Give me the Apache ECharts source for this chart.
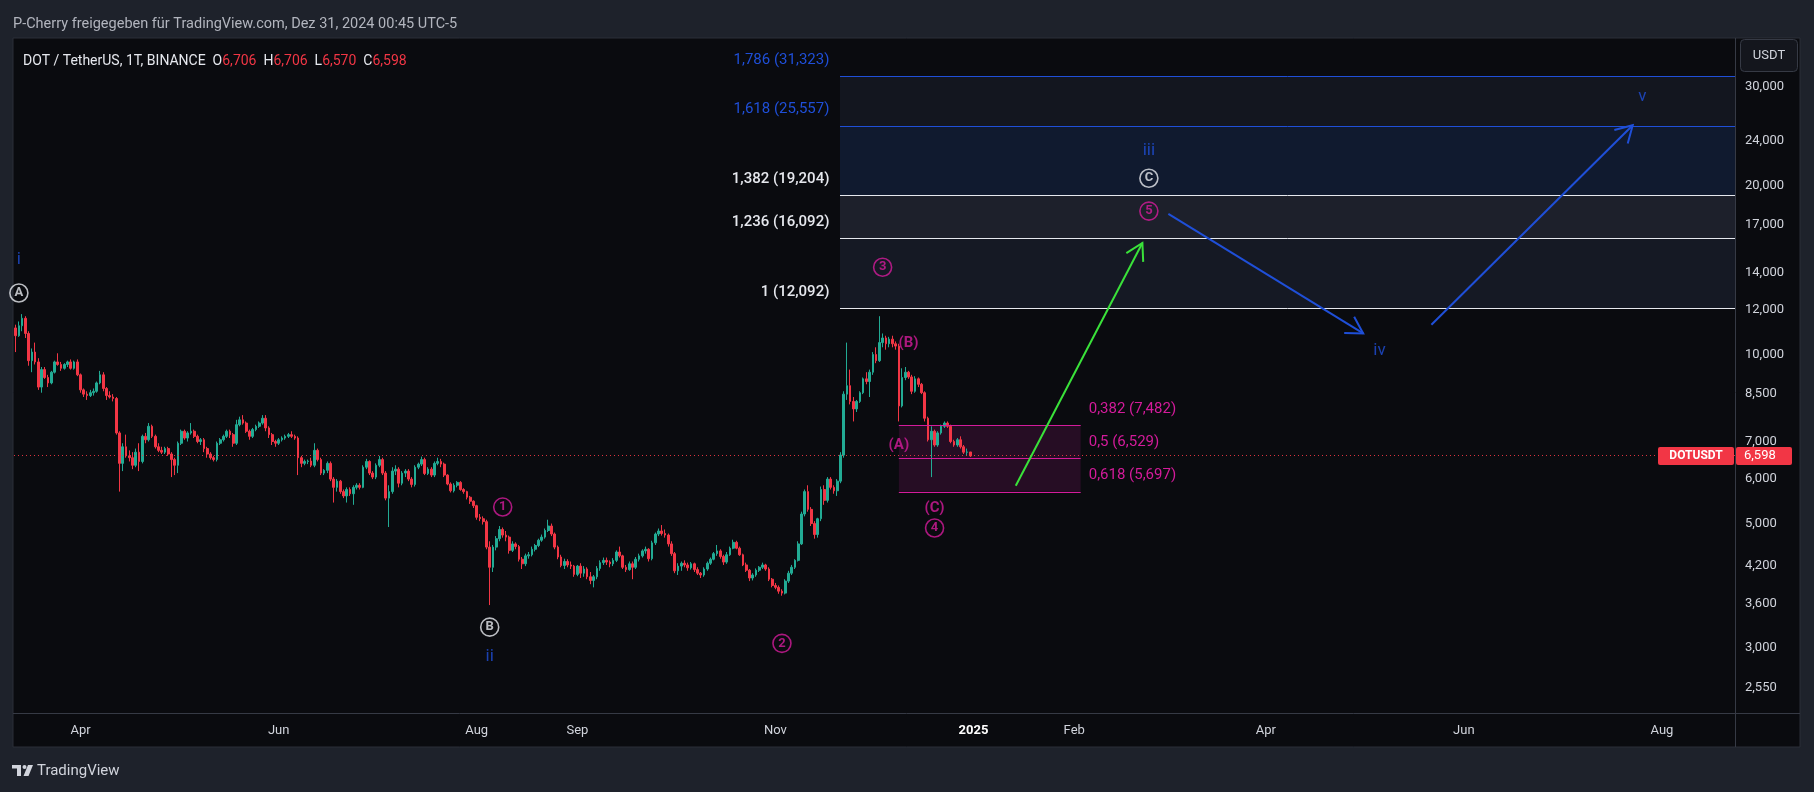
<!DOCTYPE html>
<html>
<head>
<meta charset="utf-8">
<script src="https://cdn.jsdelivr.net/npm/echarts@6/dist/echarts.min.js"></script>
<style>
html,body{margin:0;padding:0;background:#1e222b;}
#chart{width:1814px;height:792px;}
</style>
</head>
<body>
<div id="chart"></div>
<script>
// ---------------- DATA ----------------
// daily candles, DOT/USDT, [open, high, low, close]
const firstCandleDate = '2024-03-12';
const lastAxisDate = '2025-08-23';

const ohlcMar = [
[11.15,11.30,10.10,10.80],[10.80,11.45,10.75,11.25],[11.25,11.80,11.00,11.60],[11.60,11.70,10.70,10.90],
[10.90,11.00,9.55,9.75],[9.75,10.25,9.30,10.10],[10.10,10.50,9.60,9.70],[9.70,9.85,8.65,8.75],
[8.75,9.50,8.55,9.40],[9.40,9.50,9.05,9.10],[9.10,9.20,8.75,8.90],[8.90,9.35,8.85,9.30],
[9.30,9.75,9.25,9.70],[9.70,10.05,9.55,9.60],[9.60,9.70,9.35,9.45],[9.45,9.65,9.40,9.60],
[9.60,9.75,9.50,9.70],[9.70,9.80,9.40,9.45],[9.45,9.75,9.40,9.70],[9.70,9.80,9.15,9.20]
];
const ohlcApr = [
[9.20,9.25,8.55,8.65],[8.65,8.70,8.40,8.50],[8.50,8.60,8.30,8.45],[8.45,8.65,8.40,8.55],
[8.55,8.70,8.45,8.60],[8.60,8.95,8.55,8.90],[8.90,9.35,8.85,9.20],[9.20,9.30,8.60,8.70],
[8.70,8.75,8.30,8.45],[8.45,8.60,8.35,8.40],[8.40,8.50,8.25,8.35],[8.35,8.40,7.20,7.25],
[7.25,7.30,5.70,6.40],[6.40,6.95,6.20,6.85],[6.85,7.20,6.55,6.60],[6.60,6.75,6.45,6.55],
[6.55,6.70,6.25,6.35],[6.35,6.80,6.30,6.70],[6.70,6.95,6.20,6.45],[6.45,7.20,6.40,7.15],
[7.15,7.25,6.95,7.05],[7.05,7.55,7.00,7.45],[7.45,7.50,7.10,7.15],[7.15,7.20,6.80,6.85],
[6.85,6.95,6.70,6.75],[6.75,6.85,6.65,6.70],[6.70,6.85,6.65,6.80],[6.80,6.85,6.60,6.65],
[6.65,6.70,6.05,6.50],[6.50,6.55,6.10,6.35]
];
const ohlcMay = [
[6.35,7.00,6.15,6.95],[6.95,7.35,6.90,7.30],[7.30,7.35,7.05,7.10],[7.10,7.30,7.00,7.25],
[7.25,7.55,7.20,7.30],[7.30,7.35,7.10,7.15],[7.15,7.20,6.95,7.00],[7.00,7.10,6.90,7.05],
[7.05,7.10,6.70,6.80],[6.80,6.85,6.55,6.65],[6.65,6.70,6.50,6.55],[6.55,6.60,6.45,6.50],
[6.50,7.00,6.45,6.95],[6.95,7.10,6.90,7.05],[7.05,7.20,7.00,7.15],[7.15,7.35,7.10,7.30],
[7.30,7.35,7.10,7.20],[7.20,7.25,6.85,6.95],[6.95,7.65,6.90,7.50],[7.50,7.75,7.45,7.65],
[7.65,7.80,7.50,7.55],[7.55,7.60,7.25,7.30],[7.30,7.35,7.05,7.15],[7.15,7.40,7.10,7.35],
[7.35,7.50,7.30,7.45],[7.45,7.60,7.40,7.55],[7.55,7.80,7.50,7.70],[7.70,7.80,7.30,7.40],
[7.40,7.45,7.10,7.20],[7.20,7.25,6.90,7.00],[7.00,7.05,6.85,6.95]
];
const ohlcJun = [
[6.95,7.10,6.90,7.05],[7.05,7.15,7.00,7.10],[7.10,7.20,7.05,7.15],[7.15,7.25,7.10,7.20],
[7.20,7.30,7.10,7.15],[7.15,7.20,7.05,7.10],[7.10,7.15,6.10,6.55],[6.55,6.60,6.30,6.40],
[6.40,6.50,6.35,6.45],[6.45,6.50,6.38,6.46],[6.46,6.55,6.30,6.35],[6.35,6.95,6.30,6.75],
[6.75,6.80,6.45,6.50],[6.50,6.55,6.10,6.15],[6.15,6.25,6.10,6.22],[6.22,6.45,6.15,6.40],
[6.40,6.45,5.95,6.00],[6.00,6.05,5.45,5.80],[5.80,6.00,5.70,5.95],[5.95,5.98,5.65,5.70],
[5.70,5.75,5.55,5.60],[5.60,5.80,5.45,5.75],[5.75,5.80,5.60,5.65],[5.65,5.85,5.40,5.80],
[5.80,5.90,5.75,5.85],[5.85,5.90,5.75,5.80],[5.80,6.35,5.78,6.30],[6.30,6.52,6.25,6.45],
[6.45,6.48,6.10,6.15],[6.15,6.20,6.00,6.05]
];
const ohlcJul = [
[6.05,6.40,6.00,6.35],[6.35,6.60,6.30,6.50],[6.50,6.55,6.10,6.15],[6.15,6.20,5.50,5.55],
[5.55,5.85,4.93,5.70],[5.70,6.30,5.65,6.20],[6.20,6.35,6.10,6.25],[6.25,6.30,5.80,5.90],
[5.90,6.20,5.85,6.15],[6.15,6.25,6.05,6.20],[6.20,6.25,5.95,6.00],[6.00,6.05,5.80,5.87],
[5.87,6.35,5.82,6.30],[6.30,6.42,6.25,6.38],[6.38,6.58,6.33,6.50],[6.50,6.55,6.10,6.14],
[6.14,6.30,6.10,6.25],[6.25,6.30,6.05,6.10],[6.10,6.45,6.05,6.40],[6.40,6.55,6.35,6.45],
[6.45,6.52,6.30,6.38],[6.38,6.42,6.05,6.10],[6.10,6.12,5.85,5.88],[5.88,5.92,5.68,5.72],
[5.72,5.90,5.68,5.85],[5.85,5.95,5.80,5.92],[5.92,5.95,5.72,5.75],[5.75,5.78,5.65,5.70],
[5.70,5.72,5.52,5.57],[5.57,5.60,5.42,5.48],[5.48,5.50,5.33,5.38]
];
const ohlcAug = [
[5.38,5.40,5.08,5.13],[5.13,5.20,5.05,5.10],[5.10,5.15,4.98,5.04],[5.04,5.08,4.50,4.54],
[4.54,4.65,3.58,4.18],[4.18,4.58,4.10,4.54],[4.54,4.75,4.48,4.70],[4.70,4.95,4.65,4.88],
[4.88,4.92,4.72,4.77],[4.77,4.85,4.65,4.73],[4.73,4.76,4.42,4.48],[4.48,4.65,4.45,4.60],
[4.60,4.63,4.50,4.55],[4.55,4.58,4.28,4.32],[4.32,4.36,4.15,4.24],[4.24,4.42,4.20,4.38],
[4.38,4.45,4.33,4.40],[4.40,4.55,4.37,4.50],[4.50,4.60,4.46,4.57],[4.57,4.70,4.54,4.67],
[4.67,4.78,4.64,4.73],[4.73,4.90,4.70,4.86],[4.86,5.08,4.83,4.95],[4.95,5.00,4.75,4.79],
[4.79,4.82,4.50,4.54],[4.54,4.57,4.32,4.36],[4.36,4.40,4.18,4.21],[4.21,4.33,4.15,4.28],
[4.28,4.32,4.18,4.22],[4.22,4.28,4.15,4.20],[4.20,4.22,4.02,4.06]
];
const ohlcSep = [
[4.06,4.22,4.03,4.20],[4.20,4.25,4.00,4.08],[4.08,4.20,4.02,4.15],[4.15,4.18,3.98,4.02],
[4.02,4.10,3.90,3.96],[3.96,4.05,3.85,4.02],[4.02,4.20,3.98,4.16],[4.16,4.30,4.12,4.26],
[4.26,4.35,4.22,4.30],[4.30,4.35,4.22,4.27],[4.27,4.30,4.18,4.24],[4.24,4.34,4.20,4.30],
[4.30,4.48,4.27,4.45],[4.45,4.55,4.35,4.38],[4.38,4.40,4.15,4.18],[4.18,4.22,4.10,4.14],
[4.14,4.28,4.12,4.24],[4.24,4.28,3.98,4.18],[4.18,4.36,4.15,4.32],[4.32,4.42,4.28,4.38],
[4.38,4.50,4.35,4.47],[4.47,4.55,4.42,4.50],[4.50,4.52,4.28,4.33],[4.33,4.66,4.30,4.62],
[4.62,4.82,4.58,4.79],[4.79,4.90,4.75,4.85],[4.85,4.97,4.76,4.80],[4.80,4.88,4.72,4.77],
[4.77,4.80,4.55,4.60],[4.60,4.65,4.38,4.42]
];
const ohlcOct = [
[4.42,4.45,4.08,4.12],[4.12,4.25,4.05,4.20],[4.20,4.28,4.12,4.25],[4.25,4.30,4.18,4.22],
[4.22,4.26,4.12,4.17],[4.17,4.27,4.14,4.24],[4.24,4.26,4.10,4.14],[4.14,4.18,4.05,4.08],
[4.08,4.10,4.00,4.05],[4.05,4.18,4.02,4.15],[4.15,4.28,4.12,4.25],[4.25,4.35,4.22,4.32],
[4.32,4.45,4.30,4.42],[4.42,4.58,4.38,4.47],[4.47,4.50,4.33,4.37],[4.37,4.40,4.22,4.27],
[4.27,4.45,4.24,4.40],[4.40,4.55,4.38,4.52],[4.52,4.68,4.50,4.63],[4.63,4.66,4.50,4.52],
[4.52,4.55,4.38,4.40],[4.40,4.42,4.20,4.22],[4.22,4.26,4.10,4.13],[4.13,4.15,3.95,4.00],
[4.00,4.08,3.96,4.05],[4.05,4.16,4.02,4.13],[4.13,4.20,4.10,4.18],[4.18,4.26,4.15,4.22],
[4.22,4.24,4.12,4.15],[4.15,4.18,3.95,3.98],[3.98,4.00,3.85,3.88]
];
const ohlcNov = [
[3.88,3.92,3.82,3.85],[3.85,3.88,3.75,3.79],[3.79,3.82,3.72,3.76],[3.76,3.98,3.74,3.95],
[3.95,4.12,3.92,4.08],[4.08,4.22,4.05,4.18],[4.18,4.32,4.15,4.30],[4.30,4.65,4.28,4.60],
[4.60,5.25,4.58,5.20],[5.20,5.75,5.15,5.70],[5.70,5.85,5.25,5.30],[5.30,5.35,4.95,5.00],
[5.00,5.05,4.70,4.78],[4.78,5.12,4.72,5.10],[5.10,5.82,5.05,5.75],[5.75,5.85,5.40,5.50],
[5.50,6.05,5.45,6.00],[6.00,6.05,5.75,5.80],[5.80,5.85,5.65,5.72],[5.72,6.00,5.60,5.95],
[5.95,6.70,5.90,6.62],[6.62,8.60,6.55,8.50],[8.50,10.50,8.30,8.80],[8.80,9.40,8.15,8.25],
[8.25,8.40,7.60,8.00],[8.00,8.30,7.90,8.25],[8.25,8.60,8.20,8.55],[8.55,9.10,8.50,9.05],
[9.05,9.30,8.85,8.95],[8.95,9.40,8.40,9.30]
];
const ohlcDec = [
[9.30,10.10,9.20,10.00],[10.00,10.30,9.65,9.75],[9.75,11.70,9.70,10.50],[10.50,10.90,10.30,10.70],
[10.70,10.80,10.20,10.45],[10.45,10.75,10.30,10.65],[10.65,10.80,10.30,10.45],[10.45,10.55,10.20,10.35],
[10.35,10.45,7.60,8.10],[8.10,9.45,8.05,9.10],[9.10,9.50,9.00,9.30],[9.30,9.35,9.05,9.12],
[9.12,9.20,8.50,8.60],[8.60,9.15,8.55,9.05],[9.05,9.10,8.75,8.85],[8.85,8.90,8.50,8.55],
[8.55,8.60,7.60,7.70],[7.70,7.75,7.00,7.05],[7.05,7.45,6.05,7.30],[7.30,7.35,6.85,6.90],
[6.90,7.30,6.85,7.25],[7.25,7.50,7.20,7.45],[7.45,7.60,7.40,7.55],[7.55,7.60,7.40,7.45],
[7.45,7.50,6.95,7.00],[7.00,7.05,6.85,6.90],[6.90,7.10,6.85,7.05],[7.05,7.15,6.80,6.85],
[6.85,6.90,6.65,6.70],[6.70,6.80,6.60,6.706],[6.706,6.706,6.570,6.598]
];

// price axis (log scale) tick labels
const priceTicks = [2.55, 3, 3.6, 4.2, 5, 6, 7, 8.5, 10, 12, 14, 17, 20, 24, 30];
const priceAxisMin = 2.30;
const priceAxisMax = 36.6;

// time axis tick labels
const timeTickDates = ['2024-04-01','2024-06-01','2024-08-01','2024-09-01','2024-11-01','2025-01-01','2025-02-01','2025-04-01','2025-06-01','2025-08-01'];
const timeTickLabels = ['Apr','Jun','Aug','Sep','Nov','2025','Feb','Apr','Jun','Aug'];

// Fibonacci extension levels
const fibStart = '2024-11-21';
const fibRatios = ['1', '1,236', '1,382', '1,618', '1,786'];
const fibPrices = [12.092, 16.092, 19.204, 25.557, 31.323];

// Fibonacci retracement zone
const retraceStart = '2024-12-09';
const retraceEnd = '2025-02-03';
const retraceRatios = ['0,382', '0,5', '0,618'];
const retracePrices = [7.482, 6.529, 5.697];

// wave labels
const plainLabelText  = ['i', 'ii', 'iii', 'iv', 'v', '(A)', '(B)', '(C)'];
const plainLabelDate  = ['2024-03-13','2024-08-05','2025-02-24','2025-05-06','2025-07-26','2024-12-09','2024-12-12','2024-12-20'];
const plainLabelPrice = [14.73, 2.90, 23.1, 10.15, 28.8, 6.90, 10.49, 5.33];
const plainLabelKind  = ['blue','blue','blue','blue','blue','magenta','magenta','magenta'];

const circledText  = ['A', 'B', 'C', '1', '2', '3', '4', '5'];
const circledDate  = ['2024-03-13','2024-08-05','2025-02-24','2024-08-09','2024-11-03','2024-12-04','2024-12-20','2025-02-24'];
const circledPrice = [12.87, 3.27, 20.6, 5.35, 3.06, 14.3, 4.91, 18.0];
const circledKind  = ['white','white','white','magenta','magenta','magenta','magenta','magenta'];

// projection arrows
const arrowFromDate  = ['2025-01-14', '2025-03-02', '2025-05-22'];
const arrowFromPrice = [5.84, 17.8, 11.3];
const arrowToDate    = ['2025-02-22', '2025-05-01', '2025-07-23'];
const arrowToPrice   = [15.8, 10.9, 25.6];
const arrowKind      = ['green', 'blue', 'blue'];

// ---------------- STYLE ----------------
const FONT = 'Roboto, "Noto Sans", "DejaVu Sans", sans-serif';
const UP = '#22ab94', DOWN = '#f23645';
const PANEL = '#0a0b0f', SEP = '#363a45', AXIS_TXT = '#d1d4dc';
const COLORS = { blue: '#1f4fd8', magenta: '#d41b9b', white: '#e6e8ee', green: '#3ae23a' };
const fibLineColors = ['#e6e8ee', '#e6e8ee', '#e6e8ee', '#1f4fd8', '#1f4fd8'];
const fibBandFills = ['#151924', '#1d202b', '#101a2f', '#13161f'];

// ---------------- BUILD ----------------
const L = Math.log;
const fmt = v => v.toFixed(3).replace('.', ',');
const dates = [];
(function () {
  const p = s => { const a = s.split('-').map(Number); return Date.UTC(a[0], a[1] - 1, a[2]); };
  for (let t = p(firstCandleDate); t <= p(lastAxisDate); t += 86400000) dates.push(new Date(t).toISOString().slice(0, 10));
})();
const idx = {}; dates.forEach((d, i) => idx[d] = i);
const tickMap = {}; timeTickDates.forEach((d, i) => tickMap[d] = timeTickLabels[i]);

const candles = [].concat(ohlcMar, ohlcApr, ohlcMay, ohlcJun, ohlcJul, ohlcAug, ohlcSep, ohlcOct, ohlcNov, ohlcDec);
const candleData = candles.map(c => [L(c[0]), L(c[3]), L(c[2]), L(c[1])]);
const last = candles[candles.length - 1];

const crisp = v => Math.round(v) + 0.5;

const chart = echarts.init(document.getElementById('chart'), null, { renderer: 'canvas', width: 1814, height: 792 });

const option = {
  animation: false,
  backgroundColor: '#1e222b',
  textStyle: { fontFamily: FONT },
  grid: { left: 14, right: 79, top: 38, bottom: 79, containLabel: false },
  xAxis: {
    type: 'category', data: dates, boundaryGap: true,
    axisLine: { show: false }, axisTick: { show: false }, splitLine: { show: false },
    axisLabel: {
      interval: (i, v) => tickMap[v] !== undefined,
      formatter: v => tickMap[v] === '2025' ? '{b|2025}' : (tickMap[v] || ''),
      color: AXIS_TXT, fontSize: 13, margin: 11, fontFamily: FONT,
      rich: { b: { fontWeight: 'bold', color: '#ffffff', fontSize: 13, fontFamily: FONT } }
    }
  },
  yAxis: {
    type: 'value', position: 'right', min: L(priceAxisMin), max: L(priceAxisMax),
    axisLine: { show: false }, axisTick: { show: false }, splitLine: { show: false },
    axisLabel: {
      customValues: priceTicks.map(L),
      formatter: v => fmt(Math.exp(v)),
      color: AXIS_TXT, fontSize: 13, margin: 10, fontFamily: FONT
    }
  },
  graphic: [
    { type: 'rect', z: -10, shape: { x: 13, y: 38, width: 1787, height: 709 }, style: { fill: PANEL, stroke: '#2a2e39', lineWidth: 1 } },
    { type: 'line', z: 1, shape: { x1: 13, y1: 713.5, x2: 1800, y2: 713.5 }, style: { stroke: SEP, lineWidth: 1 } },
    { type: 'line', z: 1, shape: { x1: 1735.5, y1: 38, x2: 1735.5, y2: 747 }, style: { stroke: SEP, lineWidth: 1 } },
    { type: 'text', z: 5, style: { text: 'P-Cherry freigegeben für TradingView.com, Dez 31, 2024 00:45 UTC-5', x: 13, y: 24, fill: '#b2b5be', font: '14.5px ' + FONT, verticalAlign: 'middle' } },
    { type: 'text', z: 5, style: {
        x: 23, y: 61, verticalAlign: 'middle', font: '14px ' + FONT,
        text: '{w|DOT / TetherUS, 1T, BINANCE}  {w|O}{r|' + fmt(last[0]) + '}  {w|H}{r|' + fmt(last[1]) + '}  {w|L}{r|' + fmt(last[2]) + '}  {w|C}{r|' + fmt(last[3]) + '}',
        rich: { w: { fill: '#e6e8ee', font: '14px ' + FONT }, r: { fill: DOWN, font: '14px ' + FONT } }
    } },
    { type: 'rect', z: 5, shape: { x: 1740.5, y: 39.5, width: 57, height: 32, r: 4 }, style: { fill: '#14161d', stroke: '#363a45', lineWidth: 1 } },
    { type: 'text', z: 6, style: { text: 'USDT', x: 1769, y: 56, align: 'center', verticalAlign: 'middle', fill: AXIS_TXT, font: '13px ' + FONT } },
    // TradingView footer mark
    { type: 'rect', z: 5, shape: { x: 12, y: 765, width: 9, height: 3.5 }, style: { fill: '#d1d4dc' } },
    { type: 'rect', z: 5, shape: { x: 17, y: 765, width: 4, height: 11 }, style: { fill: '#d1d4dc' } },
    { type: 'circle', z: 5, shape: { cx: 24.5, cy: 767, r: 2 }, style: { fill: '#d1d4dc' } },
    { type: 'polygon', z: 5, shape: { points: [[28, 765], [33, 765], [28.5, 776], [23.5, 776]] }, style: { fill: '#d1d4dc' } },
    { type: 'text', z: 5, style: { text: 'TradingView', x: 37, y: 771, verticalAlign: 'middle', fill: '#d1d4dc', font: '15px ' + FONT } }
  ],
  series: [
    // Fibonacci extension bands
    {
      type: 'custom', z: 1, silent: true,
      data: fibPrices.slice(0, -1).map((p, i) => [idx[fibStart], L(p), L(fibPrices[i + 1]), i]),
      renderItem: (params, api) => {
        const cs = params.coordSys;
        const a = api.coord([api.value(0), api.value(1)]);
        const b = api.coord([api.value(0), api.value(2)]);
        const x0 = Math.round(a[0]);
        return { type: 'rect', shape: { x: x0, y: Math.round(b[1]), width: cs.x + cs.width - x0, height: Math.round(a[1]) - Math.round(b[1]) }, style: { fill: fibBandFills[api.value(3)] } };
      }
    },
    // Fibonacci extension lines + labels
    {
      type: 'custom', z: 2, silent: true,
      data: fibPrices.map((p, i) => [idx[fibStart], L(p), i]),
      renderItem: (params, api) => {
        const cs = params.coordSys;
        const i = api.value(2);
        const a = api.coord([api.value(0), api.value(1)]);
        const y = crisp(a[1]);
        const col = fibLineColors[i];
        return { type: 'group', children: [
          { type: 'line', shape: { x1: Math.round(a[0]), y1: y, x2: cs.x + cs.width, y2: y }, style: { stroke: col, lineWidth: 1 } },
          { type: 'text', style: { text: fibRatios[i] + ' (' + fmt(fibPrices[i]) + ')', x: a[0] - 11, y: a[1] - 16, align: 'right', verticalAlign: 'middle', fill: col, font: (i < 3 ? '500 ' : '') + '15px ' + FONT } }
        ] };
      }
    },
    // retracement zone
    {
      type: 'custom', z: 1, silent: true,
      data: [[idx[retraceStart], L(retracePrices[0]), L(retracePrices[2]), idx[retraceEnd]]],
      renderItem: (params, api) => {
        const a = api.coord([api.value(0), api.value(1)]);
        const b = api.coord([api.value(3), api.value(2)]);
        return { type: 'rect', shape: { x: a[0], y: a[1], width: b[0] - a[0], height: b[1] - a[1] }, style: { fill: 'rgba(150,24,120,0.20)' } };
      }
    },
    {
      type: 'custom', z: 4, silent: true,
      data: retracePrices.map((p, i) => [idx[retraceStart], L(p), idx[retraceEnd], i]),
      renderItem: (params, api) => {
        const i = api.value(3);
        const a = api.coord([api.value(0), api.value(1)]);
        const b = api.coord([api.value(2), api.value(1)]);
        const y = crisp(a[1]);
        return { type: 'group', children: [
          { type: 'line', shape: { x1: a[0], y1: y, x2: b[0], y2: y }, style: { stroke: COLORS.magenta, lineWidth: 1 } },
          { type: 'text', style: { text: retraceRatios[i] + ' (' + fmt(retracePrices[i]) + ')', x: b[0] + 8, y: a[1] - 16.5, align: 'left', verticalAlign: 'middle', fill: COLORS.magenta, font: '15px ' + FONT } }
        ] };
      }
    },
    // candles
    {
      type: 'candlestick', z: 3, data: candleData, barWidth: 2.2,
      itemStyle: { color: UP, color0: DOWN, borderColor: UP, borderColor0: DOWN, borderWidth: 1 },
      markLine: {
        silent: true, symbol: 'none', animation: false,
        label: { show: false },
        lineStyle: { color: DOWN, type: [1, 3], width: 1, opacity: 0.9 },
        data: [{ yAxis: L(last[3]) }]
      }
    },
    // arrows
    {
      type: 'custom', z: 5, silent: true,
      data: arrowFromDate.map((d, i) => [idx[d], L(arrowFromPrice[i]), idx[arrowToDate[i]], L(arrowToPrice[i]), i]),
      renderItem: (params, api) => {
        const p1 = api.coord([api.value(0), api.value(1)]);
        const p2 = api.coord([api.value(2), api.value(3)]);
        const col = COLORS[arrowKind[api.value(4)]];
        const ang = Math.atan2(p2[1] - p1[1], p2[0] - p1[0]);
        const len = 19, sp = Math.PI / 6;
        const a1 = ang + Math.PI - sp, a2 = ang + Math.PI + sp;
        return { type: 'group', children: [
          { type: 'line', shape: { x1: p1[0], y1: p1[1], x2: p2[0], y2: p2[1] }, style: { stroke: col, lineWidth: 2 } },
          { type: 'polyline', shape: { points: [[p2[0] + len * Math.cos(a1), p2[1] + len * Math.sin(a1)], [p2[0], p2[1]], [p2[0] + len * Math.cos(a2), p2[1] + len * Math.sin(a2)]] }, style: { stroke: col, lineWidth: 2, fill: null } }
        ] };
      }
    },
    // plain wave labels
    {
      type: 'scatter', z: 6, silent: true, symbol: 'circle', symbolSize: 2,
      itemStyle: { color: 'rgba(0,0,0,0)' },
      data: plainLabelText.map((t, i) => ({
        value: [idx[plainLabelDate[i]], L(plainLabelPrice[i])],
        label: { show: true, position: 'inside', formatter: t, color: COLORS[plainLabelKind[i]],
          fontSize: plainLabelKind[i] === 'blue' ? 17 : 15, fontWeight: plainLabelKind[i] === 'blue' ? 'normal' : 'bold', fontFamily: FONT }
      }))
    },
    // circled wave labels
    {
      type: 'scatter', z: 6, silent: true, symbol: 'circle', symbolSize: 18,
      data: circledText.map((t, i) => ({
        value: [idx[circledDate[i]], L(circledPrice[i])],
        itemStyle: { color: 'rgba(0,0,0,0)', borderColor: COLORS[circledKind[i]], borderWidth: 1.6 },
        label: { show: true, position: 'inside', formatter: t, color: COLORS[circledKind[i]], fontSize: 13, fontWeight: 'bold', fontFamily: FONT }
      }))
    },
    // last price tag
    {
      type: 'custom', z: 20, silent: true, clip: false,
      data: [[0, L(last[3])]],
      renderItem: (params, api) => {
        const cs = params.coordSys;
        const y = api.coord([0, api.value(1)])[1];
        const right = cs.x + cs.width;
        return { type: 'group', children: [
          { type: 'rect', shape: { x: right - 77, y: y - 9, width: 76, height: 18, r: 2 }, style: { fill: DOWN } },
          { type: 'text', style: { text: 'DOTUSDT', x: right - 39, y: y, align: 'center', verticalAlign: 'middle', fill: '#ffffff', font: 'bold 12px ' + FONT } },
          { type: 'rect', shape: { x: right + 1, y: y - 9, width: 56, height: 18, r: 2 }, style: { fill: DOWN } },
          { type: 'text', style: { text: fmt(last[3]), x: right + 9, y: y, align: 'left', verticalAlign: 'middle', fill: '#ffffff', font: '13px ' + FONT } }
        ] };
      }
    }
  ]
};
chart.setOption(option);
</script>
</body>
</html>
